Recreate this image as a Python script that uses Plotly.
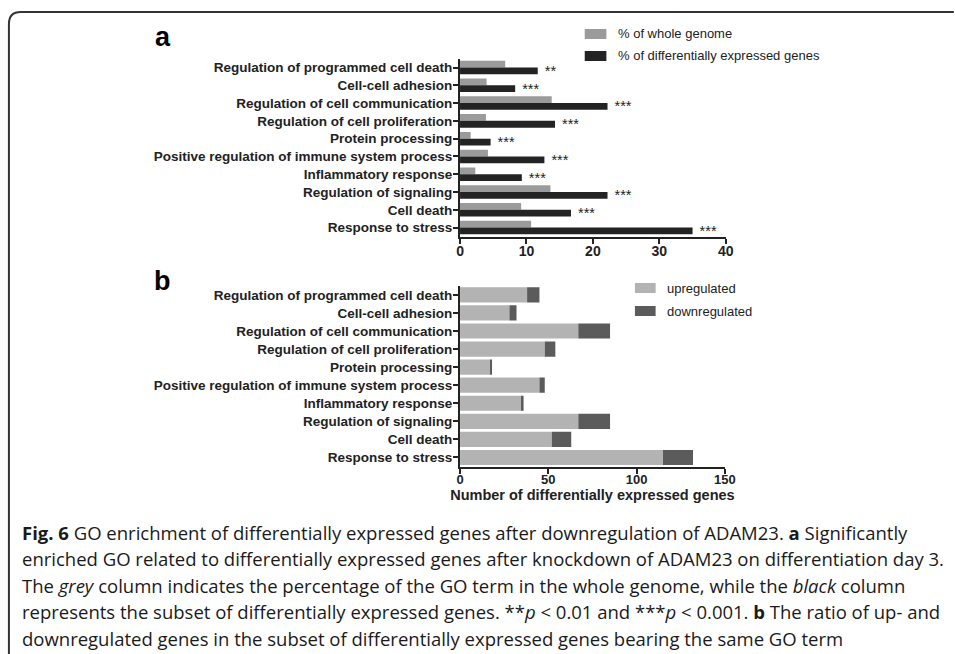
import plotly.graph_objects as go

# ---------------- data ----------------
categories = [
    "Regulation of programmed cell death",
    "Cell-cell adhesion",
    "Regulation of cell communication",
    "Regulation of cell proliferation",
    "Protein processing",
    "Positive regulation of immune system process",
    "Inflammatory response",
    "Regulation of signaling",
    "Cell death",
    "Response to stress",
]
pct_whole_genome = [6.8, 4.0, 13.8, 3.9, 1.6, 4.2, 2.3, 13.6, 9.2, 10.7]
pct_deg = [11.7, 8.3, 22.2, 14.3, 4.6, 12.7, 9.3, 22.2, 16.7, 35.0]
significance = ["**", "***", "***", "***", "***", "***", "***", "***", "***", "***"]

upregulated = [38, 28, 67, 48, 17, 45, 35, 67, 52, 115]
downregulated = [7, 4, 18, 6, 1, 3, 1, 18, 11, 17]

ticks_a = [0, 10, 20, 30, 40]
ticks_b = [0, 50, 100, 150]

caption_lines = [
    "<b>Fig. 6</b> GO enrichment of differentially expressed genes after downregulation of ADAM23. <b>a</b> Significantly",
    "enriched GO related to differentially expressed genes after knockdown of ADAM23 on differentiation day 3.",
    "The <i>grey</i> column indicates the percentage of the GO term in the whole genome, while the <i>black</i> column",
    "represents the subset of differentially expressed genes. **<i>p</i> &lt; 0.01 and ***<i>p</i> &lt; 0.001. <b>b</b> The ratio of up- and",
    "downregulated genes in the subset of differentially expressed genes bearing the same GO term",
]

# ---------------- geometry helpers ----------------
W, H = 955, 654


def px(x):
    return x / W


def py(y):
    return 1 - y / H


FONT = "Liberation Sans, Arial, sans-serif"
CAP_FONT = "Open Sans, Noto Sans, sans-serif"
INK = "#222222"
GREY_A = "#9b9b9b"
BLACK_A = "#232323"
UP_B = "#b3b3b3"
DOWN_B = "#5b5b5b"

fig = go.Figure()

fig.add_trace(go.Bar(
    y=categories, x=pct_whole_genome, orientation="h",
    xaxis="x", yaxis="y", marker=dict(color=GREY_A, line=dict(width=0)),
    width=0.38, offset=-0.38, name="% of whole genome", showlegend=False,
))
fig.add_trace(go.Bar(
    y=categories, x=pct_deg, orientation="h",
    xaxis="x", yaxis="y", marker=dict(color=BLACK_A, line=dict(width=0)),
    width=0.38, offset=0.0, name="% of differentially expressed genes",
    text=[" " + s for s in significance], textposition="outside",
    textfont=dict(family=FONT, size=14.5, color=INK), constraintext="none",
    cliponaxis=False, showlegend=False,
))
fig.add_trace(go.Bar(
    y=categories, x=upregulated, orientation="h",
    xaxis="x2", yaxis="y2", marker=dict(color=UP_B, line=dict(width=0)),
    width=0.84, offset=-0.42, name="upregulated", showlegend=False,
))
fig.add_trace(go.Bar(
    y=categories, x=downregulated, base=upregulated, orientation="h",
    xaxis="x2", yaxis="y2", marker=dict(color=DOWN_B, line=dict(width=0)),
    width=0.84, offset=-0.42, name="downregulated", showlegend=False,
))

axis_common = dict(
    showline=True, linecolor=INK, linewidth=2, ticks="outside", ticklen=5,
    tickwidth=2, tickcolor=INK, showgrid=False, zeroline=False,
)
xfont_a = dict(family=FONT, size=14, color=INK, weight="bold")
xfont_b = dict(family=FONT, size=13, color=INK, weight="bold")
yfont = dict(family=FONT, size=13.5, color=INK, weight="bold")

fig.update_layout(
    width=W, height=H, margin=dict(l=0, r=0, t=0, b=0),
    paper_bgcolor="white", plot_bgcolor="white", barmode="overlay",
    xaxis=dict(domain=[px(463.3), px(733.3)], range=[0, 40], tickvals=ticks_a,
               anchor="y", tickfont=xfont_a, ticklabelstandoff=-4, **axis_common),
    yaxis=dict(domain=[py(236.5), py(58.6)], type="category",
               categoryarray=categories, range=[9.5, -0.5], anchor="x",
               tickfont=yfont, ticklabelstandoff=-2, **axis_common),
    xaxis2=dict(domain=[px(463.3), px(732.3)], range=[0, 150], tickvals=ticks_b,
                anchor="y2", tickfont=xfont_b, ticklabelstandoff=-5,
                title=dict(text="Number of differentially expressed genes",
                           font=dict(family=FONT, size=14.5, color=INK, weight="bold"),
                           standoff=0),
                **axis_common),
    yaxis2=dict(domain=[py(466.5), py(285.8)], type="category",
                categoryarray=categories, range=[9.5, -0.5], anchor="x2",
                tickfont=yfont, ticklabelstandoff=-2, **axis_common),
)

# panel letters
for letter, yc in (("a", 37), ("b", 281)):
    fig.add_annotation(x=px(161.5), y=py(yc), xref="paper", yref="paper",
                       text=f"<b>{letter}</b>", showarrow=False,
                       font=dict(family=FONT, size=27, color="black"),
                       xanchor="center", yanchor="middle")

# legends (drawn)
legend_items = [
    ("% of whole genome", GREY_A, 590, 612, 34, 622),
    ("% of differentially expressed genes", BLACK_A, 590, 612, 56, 622),
    ("upregulated", UP_B, 641, 662, 288, 672),
    ("downregulated", DOWN_B, 641, 662, 311, 672),
]
for label, col, x0, x1, yc, xt in legend_items:
    fig.add_shape(type="rect", xref="paper", yref="paper",
                  x0=px(x0), x1=px(x1), y0=py(yc + 5), y1=py(yc - 5),
                  fillcolor=col, line=dict(width=0))
    fig.add_annotation(x=px(xt), y=py(yc), xref="paper", yref="paper",
                       text=label, showarrow=False, xanchor="left", yanchor="middle",
                       font=dict(family=FONT, size=13, color=INK))

# caption
for i, line in enumerate(caption_lines):
    fig.add_annotation(x=px(16), y=py(532 + 26.5 * i), xref="paper", yref="paper",
                       text=line, showarrow=False, xanchor="left", yanchor="middle",
                       font=dict(family=CAP_FONT, size=18.5, color="#1a1a1a"))

# rounded frame
r = 12
x0, y0 = 5, 12
path = (f"M {px(x0)},{py(H + 10)} L {px(x0)},{py(y0 + r)} "
        f"Q {px(x0)},{py(y0)} {px(x0 + r)},{py(y0)} L {px(W + 10)},{py(y0)}")
fig.add_shape(type="path", xref="paper", yref="paper", path=path,
              line=dict(color="#333333", width=2))

fig.write_html("out.html", config={"displayModeBar": False},
               post_script="document.body.style.margin='0';document.body.style.overflow='hidden';")
